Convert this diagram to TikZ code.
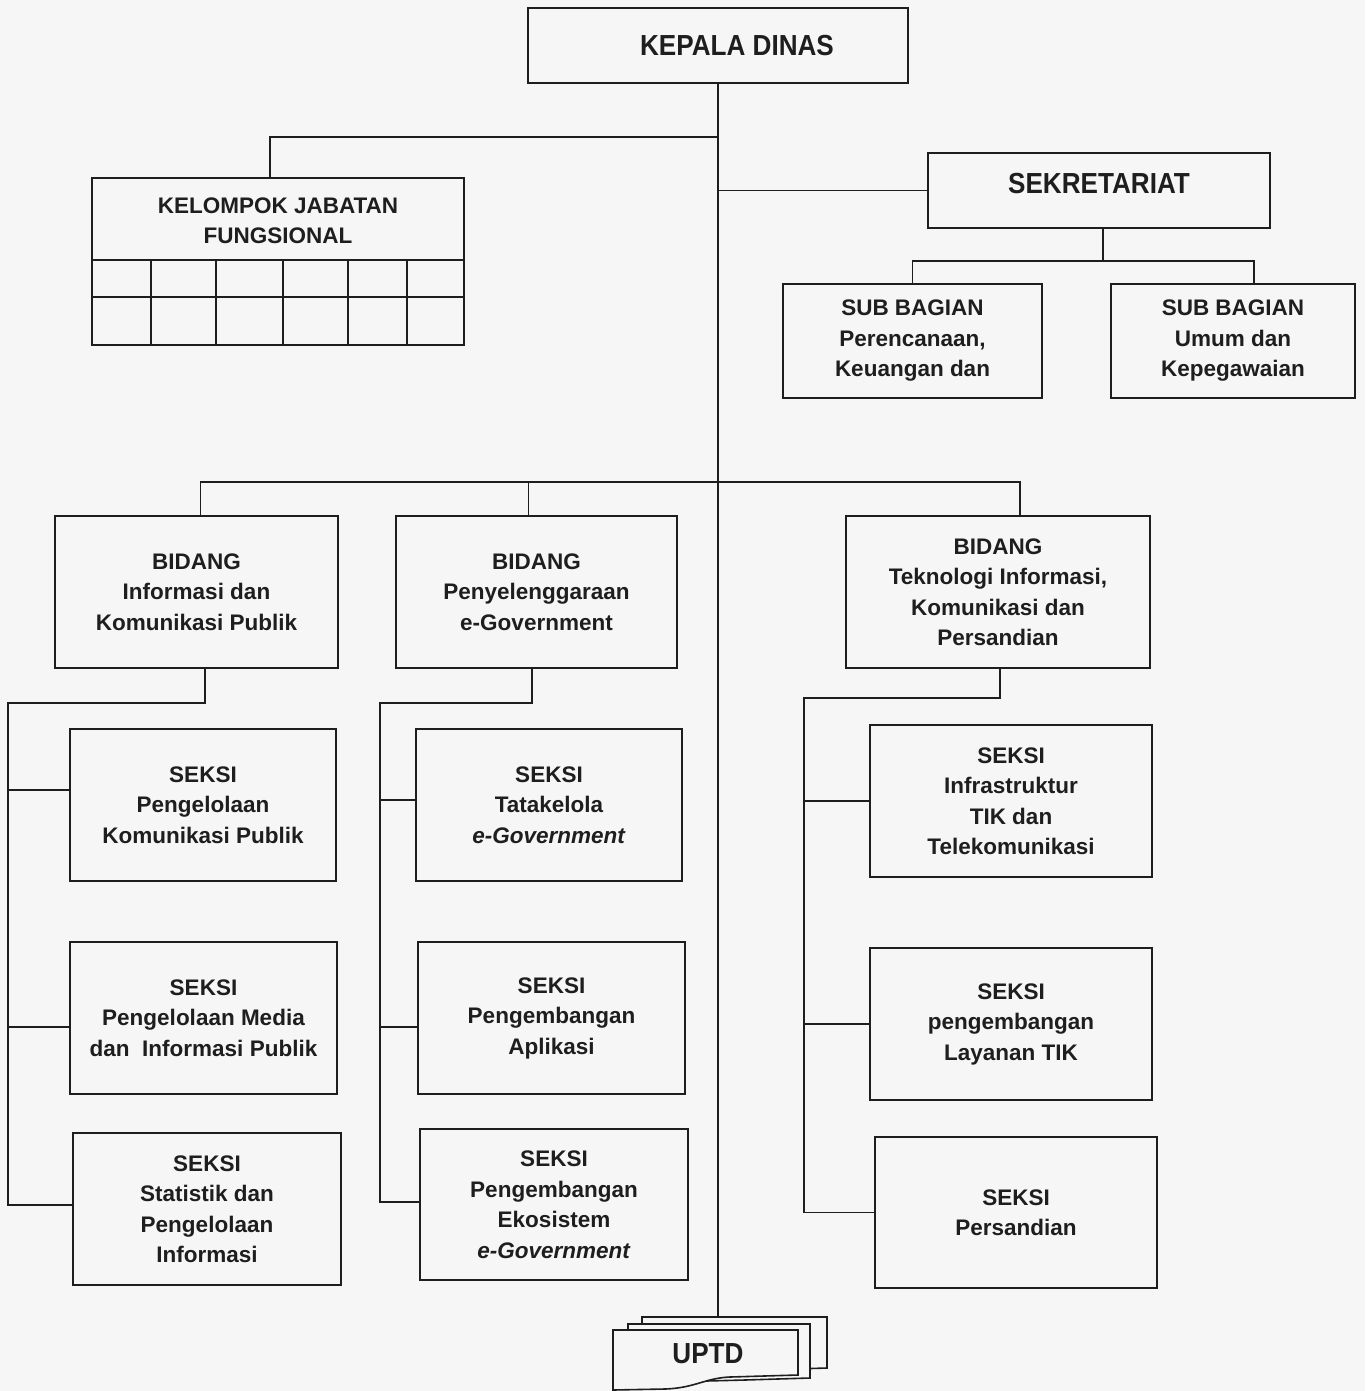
\documentclass[tikz,border=0pt]{standalone}
\usepackage{fontspec}
\setmainfont{Liberation Sans}
\usepackage{graphicx}
\definecolor{ink}{RGB}{30,30,30}
\definecolor{bg}{RGB}{246,246,246}
\begin{document}
\begin{tikzpicture}[x=1pt,y=-1pt,
  wire/.style={draw=ink,line width=1.6pt},
  box/.style={draw=ink,line width=1.6pt,rectangle,align=center,inner sep=0pt,text=ink,
     font=\fontsize{22.5}{30.5}\selectfont\bfseries},
  titletxt/.style={text=ink,inner sep=0pt,align=center,font=\fontsize{29}{34}\selectfont\bfseries},
  plaintxt/.style={text=ink,inner sep=0pt,align=center,font=\fontsize{22.5}{30.5}\selectfont\bfseries}]
\useasboundingbox[fill=bg] (0,0) rectangle (1365,1391);

% top level
\node[box,minimum width=380pt,minimum height=75pt,titletxt] (kd) at (718,45.5)
  {\hspace*{38pt}\scalebox{0.9}[1]{KEPALA DINAS}};
\node[box,minimum width=372pt,minimum height=167pt] (kjf) at (278,261.5) {};
\node[plaintxt] (kjft) at (278,221) {KELOMPOK JABATAN\\FUNGSIONAL};
\draw[wire] (92,260) -- (464,260);
\draw[wire] (92,297) -- (464,297);
\foreach \gx in {151,216,283,348,407} \draw[wire] (\gx,260) -- (\gx,345);

\node[box,minimum width=342pt,minimum height=75pt,titletxt] (sek) at (1099,190.5)
  {\raisebox{14pt}{\scalebox{0.9}[1]{SEKRETARIAT}}};
\node[box,minimum width=259pt,minimum height=114pt] (sb1) at (912.5,341)
  {SUB BAGIAN\\Perencanaan,\\Keuangan dan};
\node[box,minimum width=244pt,minimum height=114pt] (sb2) at (1233,341)
  {SUB BAGIAN\\Umum dan\\Kepegawaian};

% bidang
\node[box,minimum width=283pt,minimum height=152pt] (b1) at (196.5,592)
  {BIDANG\\Informasi dan\\Komunikasi Publik};
\node[box,minimum width=281pt,minimum height=152pt] (b2) at (536.5,592)
  {BIDANG\\Penyelenggaraan\\e-Government};
\node[box,minimum width=304pt,minimum height=152pt] (b3) at (998,592)
  {BIDANG\\Teknologi Informasi,\\Komunikasi dan\\Persandian};

% seksi
\node[box,minimum width=266pt,minimum height=152pt] (s11) at (203,805)
  {SEKSI\\Pengelolaan\\Komunikasi Publik};
\node[box,minimum width=267pt,minimum height=152pt] (s12) at (203.5,1018)
  {SEKSI\\Pengelolaan Media\\dan\ \ Informasi Publik};
\node[box,minimum width=268pt,minimum height=152pt] (s13) at (207,1209)
  {SEKSI\\Statistik dan\\Pengelolaan\\Informasi};
\node[box,minimum width=266pt,minimum height=152pt] (s21) at (549,805)
  {SEKSI\\Tatakelola\\\textit{e-Government}};
\node[box,minimum width=267pt,minimum height=152pt] (s22) at (551.5,1018)
  {SEKSI\\Pengembangan\\Aplikasi};
\node[box,minimum width=268pt,minimum height=151pt] (s23) at (554,1204.5)
  {SEKSI\\Pengembangan\\Ekosistem\\\textit{e-Government}};
\node[box,minimum width=282pt,minimum height=152pt] (s31) at (1011,801)
  {SEKSI\\Infrastruktur\\TIK dan\\Telekomunikasi};
\node[box,minimum width=282pt,minimum height=152pt] (s32) at (1011,1024)
  {SEKSI\\pengembangan\\Layanan TIK};
\node[box,minimum width=282pt,minimum height=151pt] (s33) at (1016,1212.5)
  {SEKSI\\Persandian};

% UPTD stacked documents
\draw[wire,fill=bg] (642,1317) -- (827,1317) -- (827,1368) -- (760,1370) -- (642,1372) -- cycle;
\draw[wire,fill=bg] (628,1324) -- (810,1324) -- (810,1378) -- (745,1380) -- (628,1383) -- cycle;
\draw[wire,fill=bg] (613,1330) -- (798,1330) -- (798,1375) -- (730,1377)
  .. controls (705,1378) and (695,1388) .. (665,1389) -- (613,1390) -- cycle;
\node[titletxt] (uptd) at (708,1354) {\scalebox{0.9}[1]{UPTD}};
\coordinate (uptdtop) at (718,1317);

% connectors
\draw[wire] (kd.south) -- (uptdtop);
\coordinate (yk) at (0,137);
\draw[wire] (kd.south |- yk) -| ([xshift=-8pt]kjf.north);
\draw[wire] (kd.south |- sek.west) -- (sek.west);

\coordinate (ys) at (0,261);
\coordinate (sekd) at ([xshift=4pt]sek.south);
\coordinate (sb2n) at ([xshift=21pt]sb2.north);
\draw[wire] (sekd) -- (sekd |- ys);
\draw[wire] (sb1.north) |- (sb2n |- ys) -- (sb2n);

\coordinate (yb) at (0,482);
\coordinate (b1n) at ([xshift=4pt]b1.north);
\coordinate (b2n) at ([xshift=-8pt]b2.north);
\coordinate (b3n) at ([xshift=22pt]b3.north);
\draw[wire] (b1n) |- (b3n |- yb) -- (b3n);
\draw[wire] (b2n) -- (b2n |- yb);

% bidang 1 branches
\coordinate (c1) at (8,703);
\coordinate (s11w) at ([yshift=15pt]s11.west);
\coordinate (s12w) at ([yshift=-9pt]s12.west);
\coordinate (s13w) at ([yshift=4pt]s13.west);
\draw[wire] ([xshift=8.5pt]b1.south) |- (c1) |- (s13w);
\draw[wire] (c1 |- s11w) -- (s11w);
\draw[wire] (c1 |- s12w) -- (s12w);

% bidang 2 branches
\coordinate (c2) at (380,703);
\coordinate (s21w) at ([yshift=5pt]s21.west);
\coordinate (s22w) at ([yshift=-9pt]s22.west);
\coordinate (s23w) at ([yshift=2.5pt]s23.west);
\draw[wire] ([xshift=-4.5pt]b2.south) |- (c2) |- (s23w);
\draw[wire] (c2 |- s21w) -- (s21w);
\draw[wire] (c2 |- s22w) -- (s22w);

% bidang 3 branches
\coordinate (c3) at (804,698);
\draw[wire] ([xshift=2pt]b3.south) |- (c3) |- (s33.west);
\draw[wire] (c3 |- s31.west) -- (s31.west);
\draw[wire] (c3 |- s32.west) -- (s32.west);
\end{tikzpicture}
\end{document}
